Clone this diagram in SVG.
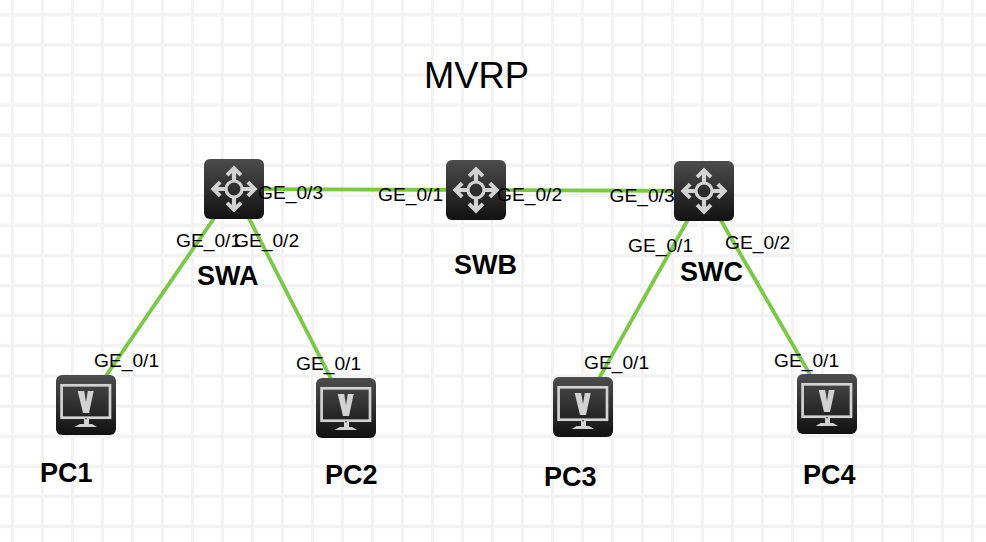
<svg xmlns="http://www.w3.org/2000/svg" width="986" height="542" viewBox="0 0 986 542">
<style>
.port{font-family:"Liberation Sans",Arial,sans-serif;font-size:19.2px;fill:#000}
.name{font-family:"Liberation Sans",Arial,sans-serif;font-size:27px;font-weight:bold;fill:#000}
.title{font-family:"Liberation Sans",Arial,sans-serif;font-size:36.300px;fill:#000}
.link{stroke:#7ac943;stroke-width:3.800;fill:none}
.glyph{fill:#d2d2d2;stroke:none}
.ol{fill:none;stroke:#d2d2d2}
</style>
<defs>
<pattern id="grid" width="30" height="30.100" patternUnits="userSpaceOnUse">
<rect x="11" width="3" height="30.100" fill="#f3f3f3"/>
<rect y="13" width="30" height="3.500" fill="#f3f3f3"/>
</pattern>
<linearGradient id="body" x1="0" y1="0" x2="0" y2="1">
<stop offset="0" stop-color="#4c4c4c"/>
<stop offset="1" stop-color="#111"/>
</linearGradient>
<g id="arrow">
<!-- one pointer of the four-way switch symbol, tip upward from the centre -->
<path class="glyph" d="M30 6.500L38.300 14.800L35.600 17.500L32.100 14V21.500H27.900V14L24.400 17.500L21.700 14.800Z"/>
</g>
<g id="router">
<rect width="60" height="60" rx="6" fill="url(#body)"/>
<circle cx="30" cy="30" r="8" class="ol" stroke-width="3.200"/>
<use href="#arrow"/>
<use href="#arrow" transform="rotate(90 30 30)"/>
<use href="#arrow" transform="rotate(180 30 30)"/>
<use href="#arrow" transform="rotate(270 30 30)"/>
</g>
<g id="pc">
<rect width="60" height="60" rx="6" fill="url(#body)"/>
<rect x="5.600" y="10.300" width="48.400" height="32.400" class="ol" stroke-width="2.700"/>
<path class="glyph" d="M21.700 16H28.200L30 27L31.800 16H37.700L33 38H27Z"/>
<path class="glyph" d="M28 44H33V49H28ZM18.700 52L23.700 49H36L41 52Z"/>
<circle cx="30" cy="43.700" r=".8" fill="#111"/>
</g>
</defs>
<rect width="986" height="542" fill="#fff"/>
<rect width="986" height="542" fill="url(#grid)"/>
<g id="connectors">
<path class="link" d="M234 189L476 190L704 191"/>
<path class="link" d="M234 189L86 405"/>
<path class="link" d="M234 189L346 408"/>
<path class="link" d="M704 191L583 407"/>
<path class="link" d="M704 191L827 404"/>
</g>
<text class="title" x="424" y="88">MVRP</text>
<g id="swa"><use href="#router" x="204" y="159"/><text class="name" x="197" y="284.500">SWA</text>
<text class="port" x="258" y="199">GE_0/3</text><text class="port" x="176" y="247">GE_0/1</text><text class="port" x="234" y="247">GE_0/2</text></g>
<g id="swb"><use href="#router" x="446" y="160"/><text class="name" x="454" y="274">SWB</text>
<text class="port" x="378" y="200.500">GE_0/1</text><text class="port" x="497" y="201">GE_0/2</text></g>
<g id="swc"><use href="#router" x="674" y="161"/><text class="name" x="680" y="281">SWC</text>
<text class="port" x="609.500" y="201.500">GE_0/3</text><text class="port" x="628" y="252">GE_0/1</text><text class="port" x="725" y="249">GE_0/2</text></g>
<g id="pc1"><use href="#pc" x="56" y="375"/><text class="name" x="40" y="481.500">PC1</text><text class="port" x="94" y="367">GE_0/1</text></g>
<g id="pc2"><use href="#pc" x="316" y="378"/><text class="name" x="325" y="483.500">PC2</text><text class="port" x="296" y="370">GE_0/1</text></g>
<g id="pc3"><use href="#pc" x="553" y="377"/><text class="name" x="544" y="485.500">PC3</text><text class="port" x="584" y="369">GE_0/1</text></g>
<g id="pc4"><use href="#pc" x="797" y="374"/><text class="name" x="803" y="484">PC4</text><text class="port" x="774" y="366.500">GE_0/1</text></g>
</svg>
